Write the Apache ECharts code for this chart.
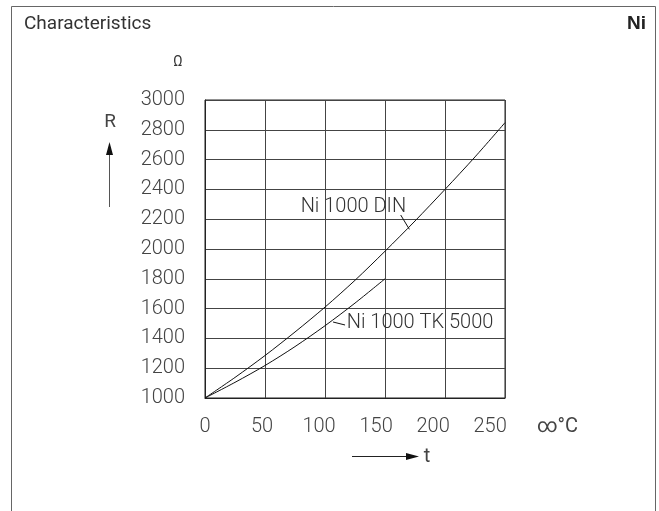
<!DOCTYPE html>
<html>
<head>
<meta charset="utf-8">
<script src="https://cdn.jsdelivr.net/npm/echarts@6/dist/echarts.min.js"></script>
<style>
  html, body { margin: 0; padding: 0; background: #fff; }
  #chart { width: 659px; height: 511px; }
</style>
</head>
<body>
<div id="chart"></div>
<script>
// temperature ticks (°C) and resistance ticks (Ω)
const tempTicks = [0, 50, 100, 150, 200, 250];
const resTicks = [1000, 1200, 1400, 1600, 1800, 2000, 2200, 2400, 2600, 2800, 3000];

// Ni 1000 DIN
const dinTemp = [0, 25, 50, 75, 100, 125, 150, 175, 200, 225, 250];
const dinRes = [1000, 1138, 1285, 1443, 1610, 1790, 1985, 2188, 2400, 2618, 2848];

// Ni 1000 TK 5000
const tkTemp = [0, 25, 50, 75, 100, 125, 150];
const tkRes = [1000, 1105, 1218, 1345, 1485, 1637, 1800];

const labelFont = 'Roboto, "DejaVu Sans", sans-serif';
const ink = '#222';

const chart = echarts.init(document.getElementById('chart'), null, { renderer: 'canvas' });

const pairs = (xs, ys) => xs.map((x, i) => [x, ys[i]]);

const option = {
  animation: false,
  backgroundColor: '#fff',
  grid: { left: 205, top: 100, width: 300, height: 298, show: true, borderColor: ink, borderWidth: 1, backgroundColor: 'transparent' },
  xAxis: [
    {
      type: 'value', min: tempTicks[0], max: tempTicks[tempTicks.length - 1], interval: 50,
      axisLine: { lineStyle: { color: ink, width: 1 } },
      axisTick: { show: false },
      axisLabel: { show: false },
      splitLine: { show: true, lineStyle: { color: '#444', width: 1 } }
    },
    {
      // labels sit a bit tighter than the grid in the original drawing
      type: 'value', min: 0, max: 263, interval: 50, position: 'bottom',
      axisLine: { show: false }, axisTick: { show: false }, splitLine: { show: false },
      showMaxLabel: false,
      axisLabel: {
        margin: 19, color: '#444', fontSize: 20, fontFamily: labelFont, fontWeight: 300,
        formatter: v => tempTicks.includes(v) ? String(v) : ''
      }
    }
  ],
  yAxis: {
    type: 'value', min: resTicks[0], max: resTicks[resTicks.length - 1], interval: 200,
    axisLine: { show: true, lineStyle: { color: ink, width: 1 } },
    axisTick: { show: false },
    axisLabel: { margin: 20, color: '#444', fontSize: 20, fontFamily: labelFont, fontWeight: 300, formatter: v => String(v) },
    splitLine: { show: true, lineStyle: { color: '#444', width: 1 } }
  },
  series: [
    {
      name: 'Ni 1000 DIN', type: 'line', smooth: 0.3, symbol: 'none',
      data: pairs(dinTemp, dinRes),
      lineStyle: { color: '#111', width: 1 },
      markPoint: {
        symbolSize: 0, silent: true,
        label: { show: true, position: 'right', distance: 0, formatter: 'Ni 1000 DIN', color: '#333', fontSize: 20, fontFamily: labelFont, fontWeight: 300 },
        data: [{ coord: [79.7, 2285] }]
      },
      markLine: {
        symbol: ['none', 'none'], silent: true, label: { show: false },
        lineStyle: { color: '#111', width: 1, type: 'solid' },
        data: [[{ coord: [163.1, 2228] }, { coord: [170.3, 2132] }]]
      }
    },
    {
      name: 'Ni 1000 TK 5000', type: 'line', smooth: 0.3, symbol: 'none',
      data: pairs(tkTemp, tkRes),
      lineStyle: { color: '#111', width: 1 },
      markPoint: {
        symbolSize: 0, silent: true,
        label: { show: true, position: 'right', distance: 0, formatter: 'Ni 1000 TK 5000', color: '#333', fontSize: 20, fontFamily: labelFont, fontWeight: 300 },
        data: [{ coord: [118.1, 1503] }]
      },
      markLine: {
        symbol: ['none', 'none'], silent: true, label: { show: false },
        lineStyle: { color: '#111', width: 1, type: 'solid' },
        data: [[{ coord: [106.7, 1510] }, { coord: [116.7, 1490] }]]
      }
    }
  ],
  graphic: [
    // outer frame (open at the bottom)
    { type: 'polyline', silent: true, shape: { points: [[11.5, 520], [11.5, 6.5], [655.5, 6.5], [655.5, 520]] }, style: { stroke: '#666', lineWidth: 1, fill: null } },
    { type: 'text', left: 24, top: 15, style: { text: 'Characteristics', font: '19px ' + labelFont, fill: '#333' } },
    { type: 'text', x: 646, y: 24, style: { text: 'Ni', font: 'bold 19px "Liberation Sans", Arial, sans-serif', fill: '#222', align: 'right', verticalAlign: 'middle' } },
    { type: 'text', x: 178, y: 62, style: { text: 'Ω', font: '14px ' + labelFont, fill: '#333', align: 'center', verticalAlign: 'middle' } },
    // R with upward arrow
    { type: 'text', x: 110, y: 122, style: { text: 'R', font: '19px ' + labelFont, fill: '#444', align: 'center', verticalAlign: 'middle' } },
    { type: 'line', silent: true, shape: { x1: 109.5, y1: 207, x2: 109.5, y2: 152 }, style: { stroke: '#555', lineWidth: 1 } },
    { type: 'polygon', silent: true, shape: { points: [[109.5, 142], [106, 155], [113, 155]] }, style: { fill: '#111' } },
    // unit after the x labels
    { type: 'text', x: 537, y: 427, style: { text: '∞°C', font: '20px ' + labelFont, fill: '#444', verticalAlign: 'middle' } },
    // t with rightward arrow
    { type: 'line', silent: true, shape: { x1: 352, y1: 456.5, x2: 408, y2: 456.5 }, style: { stroke: '#222', lineWidth: 1 } },
    { type: 'polygon', silent: true, shape: { points: [[419, 456.5], [406, 453], [406, 460]] }, style: { fill: '#111' } },
    { type: 'text', x: 427, y: 457, style: { text: 't', font: '20px ' + labelFont, fill: '#444', align: 'center', verticalAlign: 'middle' } }
  ]
};

chart.setOption(option);
</script>
</body>
</html>
